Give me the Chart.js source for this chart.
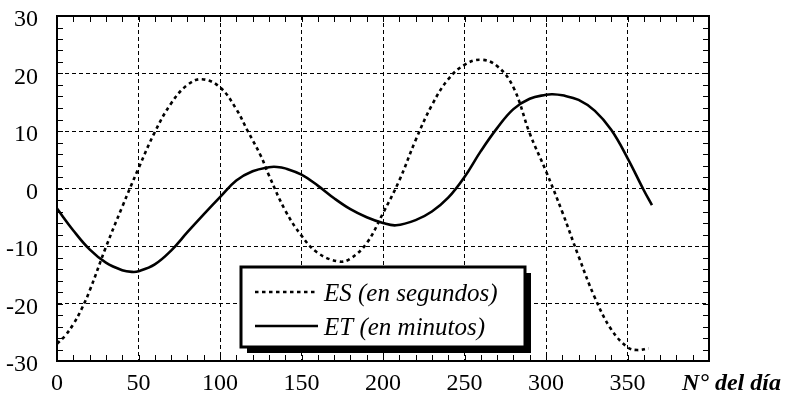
<!DOCTYPE html>
<html>
<head>
<meta charset="utf-8">
<script src="https://cdn.jsdelivr.net/npm/chart.js@4"></script>
<style>
  html, body { margin: 0; padding: 0; background: #fff; }
  #wrap { width: 787px; height: 402px; }
</style>
</head>
<body>
<div id="wrap"><canvas id="eqChart"></canvas></div>
<script>
// values
const esDays = [0, 5, 10, 15, 20, 30, 40, 50, 60, 70, 80, 89, 100, 110, 117, 125, 130, 140, 150, 160, 173, 180, 190, 200, 210, 220, 230, 240, 250, 260, 270, 280, 290, 300, 310, 320, 330, 340, 350, 356, 363];
const esValues = [-27.0, -25.6, -23.6, -21.0, -17.8, -10.2, -3.2, 3.5, 9.8, 14.8, 18.0, 19.0, 17.6, 13.8, 10.0, 5.7, 2.3, -3.8, -8.2, -11.2, -12.7, -12.2, -9.5, -4.3, 1.4, 8.4, 14.5, 19.0, 21.5, 22.4, 21.3, 17.6, 9.6, 3.0, -4.1, -11.8, -19.0, -24.5, -27.6, -28.1, -27.8];

const etDays = [0, 10, 20, 30, 40, 46, 50, 60, 70, 80, 90, 100, 110, 120, 130, 135, 140, 150, 160, 170, 180, 190, 200, 208, 220, 230, 240, 250, 260, 270, 280, 290, 300, 304, 310, 320, 330, 340, 350, 360, 365];
const etValues = [-3.5, -7.3, -10.6, -12.9, -14.2, -14.5, -14.4, -13.2, -10.8, -7.6, -4.5, -1.5, 1.4, 3.0, 3.7, 3.75, 3.5, 2.4, 0.5, -1.7, -3.6, -5.0, -6.0, -6.4, -5.5, -4.0, -1.6, 2.0, 6.5, 10.5, 13.8, 15.6, 16.3, 16.4, 16.2, 15.4, 13.5, 10.2, 5.3, -0.3, -2.9];

const seriesLabels = ['ES (en segundos)', 'ET (en minutos)'];
const xTicks = [0, 50, 100, 150, 200, 250, 300, 350];
const yTicks = [-30, -20, -10, 0, 10, 20, 30];
const xTitle = 'N° del día';

const serif = '"Liberation Serif", "Times New Roman", serif';

function toPoints(xs, ys) {
  return xs.map((x, i) => ({ x: x, y: ys[i] }));
}

// frame, inward ticks on four sides, tick labels, x title and boxed legend with shadow
const decorations = {
  id: 'decorations',
  afterDraw(chart) {
    const { ctx, chartArea: a, scales: { x, y } } = chart;
    ctx.save();
    ctx.strokeStyle = '#000';
    ctx.lineWidth = 1;
    ctx.beginPath();
    for (let d = 0; d <= 400; d += 10) {
      const px = Math.round(x.getPixelForValue(d)) + 0.5;
      ctx.moveTo(px, a.bottom); ctx.lineTo(px, a.bottom - 6);
      ctx.moveTo(px, a.top); ctx.lineTo(px, a.top + 6);
    }
    for (let v = -30; v <= 30; v += 2) {
      const py = Math.round(y.getPixelForValue(v)) + 0.5;
      ctx.moveTo(a.left, py); ctx.lineTo(a.left + 6, py);
      ctx.moveTo(a.right, py); ctx.lineTo(a.right - 6, py);
    }
    ctx.stroke();

    ctx.lineWidth = 2;
    ctx.strokeRect(a.left, a.top, a.right - a.left, a.bottom - a.top);

    ctx.fillStyle = '#000';
    ctx.font = '24px ' + serif;
    ctx.textBaseline = 'middle';
    ctx.textAlign = 'center';
    xTicks.forEach((t) => ctx.fillText(String(t), x.getPixelForValue(t), a.bottom + 23));
    ctx.textAlign = 'right';
    yTicks.forEach((t) => ctx.fillText(String(t), a.left - 19, y.getPixelForValue(t) + 4));

    ctx.font = 'bold italic 24px ' + serif;
    ctx.textAlign = 'left';
    ctx.textBaseline = 'alphabetic';
    ctx.fillText(xTitle, a.right - 27, a.bottom + 29);

    // legend
    const bx = 241, by = 267, bw = 284, bh = 80, sh = 6;
    ctx.fillStyle = '#000';
    ctx.fillRect(bx + sh, by + sh, bw, bh);
    ctx.fillStyle = '#fff';
    ctx.fillRect(bx, by, bw, bh);
    ctx.lineWidth = 3;
    ctx.strokeRect(bx, by, bw, bh);

    ctx.font = 'italic 25px ' + serif;
    chart.data.datasets.forEach((ds, i) => {
      const ly = 292 + i * 34;
      ctx.strokeStyle = ds.borderColor;
      ctx.lineWidth = ds.borderWidth;
      ctx.setLineDash(ds.borderDash || []);
      ctx.beginPath();
      ctx.moveTo(255, ly); ctx.lineTo(318, ly);
      ctx.stroke();
      ctx.setLineDash([]);
      ctx.fillStyle = '#000';
      ctx.fillText(ds.label, 324, ly + 9);
    });
    ctx.restore();
  }
};

const ctx1 = document.getElementById('eqChart');

new Chart(ctx1, {
  type: 'scatter',
  data: {
    datasets: [{
      label: seriesLabels[0],
      data: toPoints(esDays, esValues),
      showLine: true,
      borderColor: '#000',
      borderWidth: 2.6,
      borderDash: [3.5, 3.5],
      pointRadius: 0,
      tension: 0.4
    }, {
      label: seriesLabels[1],
      data: toPoints(etDays, etValues),
      showLine: true,
      borderColor: '#000',
      borderWidth: 2.6,
      pointRadius: 0,
      tension: 0.4
    }]
  },
  options: {
    responsive: true,
    maintainAspectRatio: false,
    animation: false,
    layout: { padding: { top: 16, right: 78, left: 0, bottom: 0 } },
    plugins: {
      legend: { display: false },
      tooltip: { enabled: false }
    },
    scales: {
      x: {
        type: 'linear',
        min: 0,
        max: 400,
        afterFit: (s) => { s.height = 41; },
        grid: { color: '#000', lineWidth: 1, drawTicks: false },
        border: { display: true, color: '#000', width: 2, dash: [4, 3] },
        ticks: { stepSize: 50, display: false }
      },
      y: {
        min: -30,
        max: 30,
        afterFit: (s) => { s.width = 57; },
        grid: { color: '#000', lineWidth: 1, drawTicks: false },
        border: { display: true, color: '#000', width: 2, dash: [4, 3] },
        ticks: { stepSize: 10, display: false }
      }
    }
  },
  plugins: [decorations]
});
</script>
</body>
</html>
